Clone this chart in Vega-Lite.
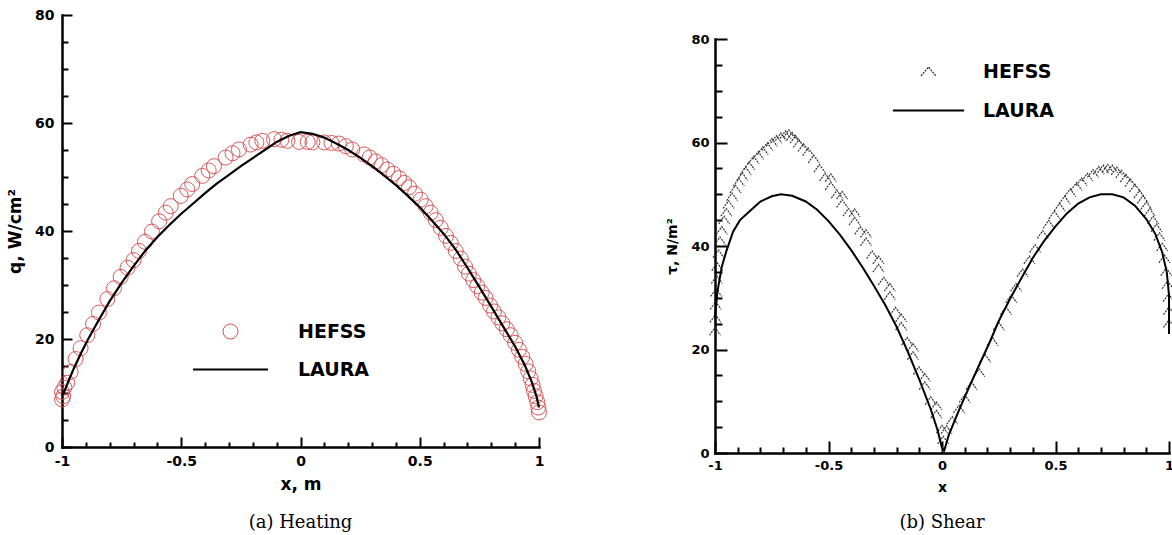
{
  "$schema": "https://vega.github.io/schema/vega-lite/v6.json",
  "background": "white",
  "padding": {"left": 6, "top": 8, "right": 0, "bottom": 5},
  "config": {
    "view": {"stroke": null},
    "font": "DejaVu Sans",
    "axis": {"grid": false, "domainColor": "black", "tickColor": "black", "labelColor": "black", "titleColor": "black", "labelFont": "DejaVu Sans", "titleFont": "DejaVu Sans", "labelFontWeight": "bold", "titleFontWeight": "bold", "labelFlush": false, "labelOverlap": false, "domainCap": "square"}
  },
  "resolve": {"scale": {"color": "independent"}, "legend": {"color": "independent"}},
  "spacing": 116,
  "hconcat": [
    {
      "width": 477,
      "height": 432,
      "title": {"text": "(a) Heating", "orient": "bottom", "font": "DejaVu Serif", "fontSize": 18, "fontWeight": "normal", "color": "black", "offset": 22, "anchor": "middle"},
      "data": {"values": [
        {"series": "LAURA", "x": -1.0, "y": 9.5},
        {"series": "LAURA", "x": -0.99, "y": 10.3},
        {"series": "LAURA", "x": -0.97, "y": 12.5},
        {"series": "LAURA", "x": -0.95, "y": 14.6},
        {"series": "LAURA", "x": -0.92, "y": 17.4},
        {"series": "LAURA", "x": -0.89, "y": 20.0},
        {"series": "LAURA", "x": -0.85, "y": 23.2},
        {"series": "LAURA", "x": -0.80, "y": 27.0},
        {"series": "LAURA", "x": -0.75, "y": 30.4},
        {"series": "LAURA", "x": -0.70, "y": 33.5},
        {"series": "LAURA", "x": -0.65, "y": 36.4},
        {"series": "LAURA", "x": -0.60, "y": 38.9},
        {"series": "LAURA", "x": -0.55, "y": 41.1},
        {"series": "LAURA", "x": -0.50, "y": 43.2},
        {"series": "LAURA", "x": -0.45, "y": 45.1},
        {"series": "LAURA", "x": -0.40, "y": 47.0},
        {"series": "LAURA", "x": -0.35, "y": 48.8},
        {"series": "LAURA", "x": -0.30, "y": 50.4},
        {"series": "LAURA", "x": -0.25, "y": 52.0},
        {"series": "LAURA", "x": -0.20, "y": 53.5},
        {"series": "LAURA", "x": -0.15, "y": 55.0},
        {"series": "LAURA", "x": -0.10, "y": 56.5},
        {"series": "LAURA", "x": -0.05, "y": 57.6},
        {"series": "LAURA", "x": 0.0, "y": 58.3},
        {"series": "LAURA", "x": 0.05, "y": 58.0},
        {"series": "LAURA", "x": 0.10, "y": 57.3},
        {"series": "LAURA", "x": 0.15, "y": 56.2},
        {"series": "LAURA", "x": 0.20, "y": 55.0},
        {"series": "LAURA", "x": 0.25, "y": 53.6},
        {"series": "LAURA", "x": 0.30, "y": 52.0},
        {"series": "LAURA", "x": 0.35, "y": 50.3},
        {"series": "LAURA", "x": 0.40, "y": 48.5},
        {"series": "LAURA", "x": 0.45, "y": 46.5},
        {"series": "LAURA", "x": 0.50, "y": 44.4},
        {"series": "LAURA", "x": 0.55, "y": 42.0},
        {"series": "LAURA", "x": 0.60, "y": 39.5},
        {"series": "LAURA", "x": 0.65, "y": 36.6},
        {"series": "LAURA", "x": 0.70, "y": 33.2},
        {"series": "LAURA", "x": 0.75, "y": 29.6},
        {"series": "LAURA", "x": 0.80, "y": 26.0},
        {"series": "LAURA", "x": 0.85, "y": 22.3},
        {"series": "LAURA", "x": 0.90, "y": 18.6},
        {"series": "LAURA", "x": 0.94, "y": 15.2},
        {"series": "LAURA", "x": 0.97, "y": 12.0},
        {"series": "LAURA", "x": 0.99, "y": 9.3},
        {"series": "LAURA", "x": 1.0, "y": 7.3},
        {"series": "HEFSS", "x": -1.0, "y": 8.8},
        {"series": "HEFSS", "x": -1.0, "y": 10.2},
        {"series": "HEFSS", "x": -0.995, "y": 9.4},
        {"series": "HEFSS", "x": -0.99, "y": 11.0},
        {"series": "HEFSS", "x": -0.978, "y": 11.9},
        {"series": "HEFSS", "x": -0.964, "y": 13.9},
        {"series": "HEFSS", "x": -0.943, "y": 16.3},
        {"series": "HEFSS", "x": -0.922, "y": 18.3},
        {"series": "HEFSS", "x": -0.894, "y": 20.7},
        {"series": "HEFSS", "x": -0.87, "y": 22.8},
        {"series": "HEFSS", "x": -0.845, "y": 24.9},
        {"series": "HEFSS", "x": -0.81, "y": 27.4},
        {"series": "HEFSS", "x": -0.782, "y": 29.4},
        {"series": "HEFSS", "x": -0.754, "y": 31.5},
        {"series": "HEFSS", "x": -0.725, "y": 33.2},
        {"series": "HEFSS", "x": -0.70, "y": 34.6},
        {"series": "HEFSS", "x": -0.677, "y": 36.3},
        {"series": "HEFSS", "x": -0.652, "y": 38.0},
        {"series": "HEFSS", "x": -0.623, "y": 39.9},
        {"series": "HEFSS", "x": -0.593, "y": 41.8},
        {"series": "HEFSS", "x": -0.565, "y": 43.4},
        {"series": "HEFSS", "x": -0.544, "y": 44.6},
        {"series": "HEFSS", "x": -0.502, "y": 46.5},
        {"series": "HEFSS", "x": -0.475, "y": 47.7},
        {"series": "HEFSS", "x": -0.454, "y": 48.7},
        {"series": "HEFSS", "x": -0.412, "y": 50.2},
        {"series": "HEFSS", "x": -0.385, "y": 51.2},
        {"series": "HEFSS", "x": -0.363, "y": 52.0},
        {"series": "HEFSS", "x": -0.314, "y": 53.6},
        {"series": "HEFSS", "x": -0.285, "y": 54.4},
        {"series": "HEFSS", "x": -0.258, "y": 55.1},
        {"series": "HEFSS", "x": -0.209, "y": 56.0},
        {"series": "HEFSS", "x": -0.185, "y": 56.4},
        {"series": "HEFSS", "x": -0.160, "y": 56.7},
        {"series": "HEFSS", "x": -0.111, "y": 57.0},
        {"series": "HEFSS", "x": -0.08, "y": 56.9},
        {"series": "HEFSS", "x": -0.055, "y": 56.7},
        {"series": "HEFSS", "x": -0.006, "y": 56.5},
        {"series": "HEFSS", "x": 0.03, "y": 56.5},
        {"series": "HEFSS", "x": 0.05, "y": 56.4},
        {"series": "HEFSS", "x": 0.099, "y": 56.4},
        {"series": "HEFSS", "x": 0.13, "y": 56.3},
        {"series": "HEFSS", "x": 0.161, "y": 56.2},
        {"series": "HEFSS", "x": 0.19, "y": 55.7},
        {"series": "HEFSS", "x": 0.217, "y": 55.1},
        {"series": "HEFSS", "x": 0.266, "y": 54.2},
        {"series": "HEFSS", "x": 0.29, "y": 53.6},
        {"series": "HEFSS", "x": 0.315, "y": 52.9},
        {"series": "HEFSS", "x": 0.34, "y": 52.2},
        {"series": "HEFSS", "x": 0.364, "y": 51.4},
        {"series": "HEFSS", "x": 0.39, "y": 50.6},
        {"series": "HEFSS", "x": 0.413, "y": 49.8},
        {"series": "HEFSS", "x": 0.435, "y": 48.9},
        {"series": "HEFSS", "x": 0.455, "y": 48.1},
        {"series": "HEFSS", "x": 0.48, "y": 46.9},
        {"series": "HEFSS", "x": 0.504, "y": 45.8},
        {"series": "HEFSS", "x": 0.525, "y": 44.6},
        {"series": "HEFSS", "x": 0.546, "y": 43.4},
        {"series": "HEFSS", "x": 0.567, "y": 42.0},
        {"series": "HEFSS", "x": 0.588, "y": 40.6},
        {"series": "HEFSS", "x": 0.61, "y": 39.1},
        {"series": "HEFSS", "x": 0.630, "y": 37.8},
        {"series": "HEFSS", "x": 0.651, "y": 36.3},
        {"series": "HEFSS", "x": 0.672, "y": 34.9},
        {"series": "HEFSS", "x": 0.69, "y": 33.4},
        {"series": "HEFSS", "x": 0.706, "y": 32.1},
        {"series": "HEFSS", "x": 0.724, "y": 30.9},
        {"series": "HEFSS", "x": 0.741, "y": 29.8},
        {"series": "HEFSS", "x": 0.76, "y": 28.6},
        {"series": "HEFSS", "x": 0.776, "y": 27.6},
        {"series": "HEFSS", "x": 0.795, "y": 26.2},
        {"series": "HEFSS", "x": 0.811, "y": 25.1},
        {"series": "HEFSS", "x": 0.83, "y": 24.0},
        {"series": "HEFSS", "x": 0.846, "y": 22.9},
        {"series": "HEFSS", "x": 0.865, "y": 21.8},
        {"series": "HEFSS", "x": 0.881, "y": 20.7},
        {"series": "HEFSS", "x": 0.90, "y": 19.3},
        {"series": "HEFSS", "x": 0.916, "y": 18.0},
        {"series": "HEFSS", "x": 0.93, "y": 16.7},
        {"series": "HEFSS", "x": 0.944, "y": 15.4},
        {"series": "HEFSS", "x": 0.955, "y": 14.0},
        {"series": "HEFSS", "x": 0.965, "y": 12.7},
        {"series": "HEFSS", "x": 0.973, "y": 11.5},
        {"series": "HEFSS", "x": 0.979, "y": 10.4},
        {"series": "HEFSS", "x": 0.986, "y": 9.4},
        {"series": "HEFSS", "x": 0.993, "y": 8.3},
        {"series": "HEFSS", "x": 0.997, "y": 7.3},
        {"series": "HEFSS", "x": 1.0, "y": 6.4}
      ]},
      "encoding": {
        "x": {"field": "x", "type": "quantitative", "scale": {"domain": [-1, 1], "nice": false, "zero": false},
          "axis": {"values": [-1, -0.9, -0.8, -0.7, -0.6, -0.5, -0.4, -0.3, -0.2, -0.1, 0, 0.1, 0.2, 0.3, 0.4, 0.5, 0.6, 0.7, 0.8, 0.9, 1],
            "labelExpr": "abs(datum.value*2 - round(datum.value*2)) < 0.001 ? '' + datum.value : ''",
            "tickSize": {"condition": {"test": "abs(datum.value*2 - round(datum.value*2)) < 0.001", "value": -10}, "value": -5},
            "tickWidth": 2, "domainWidth": 2.5, "labelPadding": 17, "labelFontSize": 14,
            "title": "x, m", "titleFontSize": 17, "titlePadding": 3}},
        "y": {"field": "y", "type": "quantitative", "scale": {"domain": [0, 80], "nice": false},
          "axis": {"values": [0, 5, 10, 15, 20, 25, 30, 35, 40, 45, 50, 55, 60, 65, 70, 75, 80],
            "labelExpr": "datum.value % 20 === 0 ? '' + datum.value : ''",
            "tickSize": {"condition": {"test": "datum.value % 20 === 0", "value": -10}, "value": -6},
            "tickWidth": 2, "domainWidth": 2.5, "labelPadding": 18, "labelFontSize": 14,
            "title": "q, W/cm²", "titleFontSize": 17, "titlePadding": 10}},
        "color": {"field": "series", "type": "nominal", "scale": {"domain": ["HEFSS", "LAURA"], "range": ["#d94848", "black"]},
          "legend": {"orient": "none", "legendX": 159, "legendY": 307, "title": null, "padding": 0,
            "labelFont": "DejaVu Sans", "labelFontSize": 19, "labelFontWeight": "bold", "labelColor": "black",
            "labelOffset": 58, "rowPadding": 18, "symbolSize": 225,
            "encode": {"symbols": {"update": {
              "shape": {"signal": "datum.value === 'HEFSS' ? 'circle' : 'M-5,0L5,0'"},
              "stroke": {"signal": "datum.value === 'HEFSS' ? '#d94848' : 'black'"},
              "strokeWidth": {"signal": "datum.value === 'HEFSS' ? 1 : 2.2"},
              "fill": {"value": "transparent"},
              "size": {"value": 225},
              "opacity": {"value": 1}}}}}}
      },
      "layer": [
        {"transform": [{"filter": "datum.series === 'HEFSS'"}],
         "mark": {"type": "point", "shape": "circle", "size": 225, "strokeWidth": 1, "filled": false, "opacity": 0.9}},
        {"transform": [{"filter": "datum.series === 'LAURA'"}],
         "mark": {"type": "line", "strokeWidth": 2.2}}
      ]
    },
    {
      "spacing": 17,
      "resolve": {"scale": {"color": "independent"}, "legend": {"color": "independent"}},
      "vconcat": [
        {"width": 454, "height": 1, "data": {"values": []}, "mark": {"type": "point", "opacity": 0}, "encoding": {}},
        {
          "width": 454,
          "height": 414,
          "title": {"text": "(b) Shear", "orient": "bottom", "font": "DejaVu Serif", "fontSize": 18, "fontWeight": "normal", "color": "black", "offset": 20, "anchor": "middle"},
          "data": {"values": [
            {"series": "LAURA", "x": -1.0, "y": 26.0},
            {"series": "LAURA", "x": -0.99, "y": 31.0},
            {"series": "LAURA", "x": -0.97, "y": 36.0},
            {"series": "LAURA", "x": -0.95, "y": 39.0},
            {"series": "LAURA", "x": -0.92, "y": 42.8},
            {"series": "LAURA", "x": -0.89, "y": 45.0},
            {"series": "LAURA", "x": -0.85, "y": 46.6},
            {"series": "LAURA", "x": -0.80, "y": 48.6},
            {"series": "LAURA", "x": -0.75, "y": 49.6},
            {"series": "LAURA", "x": -0.71, "y": 50.0},
            {"series": "LAURA", "x": -0.66, "y": 49.7},
            {"series": "LAURA", "x": -0.60, "y": 48.6},
            {"series": "LAURA", "x": -0.55, "y": 47.0},
            {"series": "LAURA", "x": -0.50, "y": 44.8},
            {"series": "LAURA", "x": -0.45, "y": 42.2},
            {"series": "LAURA", "x": -0.40, "y": 39.2},
            {"series": "LAURA", "x": -0.35, "y": 35.9},
            {"series": "LAURA", "x": -0.30, "y": 32.3},
            {"series": "LAURA", "x": -0.25, "y": 28.6},
            {"series": "LAURA", "x": -0.20, "y": 24.4},
            {"series": "LAURA", "x": -0.15, "y": 19.5},
            {"series": "LAURA", "x": -0.10, "y": 14.2},
            {"series": "LAURA", "x": -0.05, "y": 8.5},
            {"series": "LAURA", "x": -0.02, "y": 4.5},
            {"series": "LAURA", "x": 0.0, "y": 1.0},
            {"series": "LAURA", "x": 0.01, "y": 0.5},
            {"series": "LAURA", "x": 0.03, "y": 3.5},
            {"series": "LAURA", "x": 0.075, "y": 8.3},
            {"series": "LAURA", "x": 0.12, "y": 12.8},
            {"series": "LAURA", "x": 0.164, "y": 17.0},
            {"series": "LAURA", "x": 0.21, "y": 21.4},
            {"series": "LAURA", "x": 0.25, "y": 25.5},
            {"series": "LAURA", "x": 0.30, "y": 29.8},
            {"series": "LAURA", "x": 0.355, "y": 34.2},
            {"series": "LAURA", "x": 0.40, "y": 37.7},
            {"series": "LAURA", "x": 0.45, "y": 41.0},
            {"series": "LAURA", "x": 0.50, "y": 43.8},
            {"series": "LAURA", "x": 0.55, "y": 46.3},
            {"series": "LAURA", "x": 0.60, "y": 48.2},
            {"series": "LAURA", "x": 0.65, "y": 49.4},
            {"series": "LAURA", "x": 0.70, "y": 50.0},
            {"series": "LAURA", "x": 0.75, "y": 50.0},
            {"series": "LAURA", "x": 0.80, "y": 49.4},
            {"series": "LAURA", "x": 0.85, "y": 47.8},
            {"series": "LAURA", "x": 0.90, "y": 45.2},
            {"series": "LAURA", "x": 0.94, "y": 42.3},
            {"series": "LAURA", "x": 0.97, "y": 38.8},
            {"series": "LAURA", "x": 0.99, "y": 35.0},
            {"series": "LAURA", "x": 1.0, "y": 30.5},
            {"series": "LAURA", "x": 1.0, "y": 26.0},
            {"series": "LAURA", "x": 1.0, "y": 23.0},
            {"series": "HEFSS", "x": -1.0, "y": 23.5},
            {"series": "HEFSS", "x": -0.998, "y": 26.0},
            {"series": "HEFSS", "x": -0.997, "y": 28.5},
            {"series": "HEFSS", "x": -0.995, "y": 31.0},
            {"series": "HEFSS", "x": -0.992, "y": 33.5},
            {"series": "HEFSS", "x": -0.99, "y": 36.0},
            {"series": "HEFSS", "x": -0.985, "y": 38.5},
            {"series": "HEFSS", "x": -0.978, "y": 41.0},
            {"series": "HEFSS", "x": -0.97, "y": 43.0},
            {"series": "HEFSS", "x": -0.96, "y": 45.0},
            {"series": "HEFSS", "x": -0.95, "y": 46.5},
            {"series": "HEFSS", "x": -0.94, "y": 48.0},
            {"series": "HEFSS", "x": -0.925, "y": 49.5},
            {"series": "HEFSS", "x": -0.91, "y": 51.0},
            {"series": "HEFSS", "x": -0.895, "y": 52.3},
            {"series": "HEFSS", "x": -0.88, "y": 53.4},
            {"series": "HEFSS", "x": -0.865, "y": 54.5},
            {"series": "HEFSS", "x": -0.85, "y": 55.5},
            {"series": "HEFSS", "x": -0.83, "y": 56.6},
            {"series": "HEFSS", "x": -0.81, "y": 57.5},
            {"series": "HEFSS", "x": -0.79, "y": 58.4},
            {"series": "HEFSS", "x": -0.77, "y": 59.2},
            {"series": "HEFSS", "x": -0.75, "y": 60.0},
            {"series": "HEFSS", "x": -0.73, "y": 60.6},
            {"series": "HEFSS", "x": -0.71, "y": 61.1},
            {"series": "HEFSS", "x": -0.69, "y": 61.5},
            {"series": "HEFSS", "x": -0.675, "y": 61.7},
            {"series": "HEFSS", "x": -0.66, "y": 61.2},
            {"series": "HEFSS", "x": -0.645, "y": 60.6},
            {"series": "HEFSS", "x": -0.63, "y": 59.8},
            {"series": "HEFSS", "x": -0.61, "y": 59.0},
            {"series": "HEFSS", "x": -0.59, "y": 58.2},
            {"series": "HEFSS", "x": -0.565, "y": 56.8},
            {"series": "HEFSS", "x": -0.54, "y": 55.0},
            {"series": "HEFSS", "x": -0.515, "y": 53.3},
            {"series": "HEFSS", "x": -0.49, "y": 51.6},
            {"series": "HEFSS", "x": -0.49, "y": 53.2},
            {"series": "HEFSS", "x": -0.463, "y": 50.0},
            {"series": "HEFSS", "x": -0.44, "y": 48.2},
            {"series": "HEFSS", "x": -0.44, "y": 49.8},
            {"series": "HEFSS", "x": -0.412, "y": 46.5},
            {"series": "HEFSS", "x": -0.385, "y": 44.8},
            {"series": "HEFSS", "x": -0.385, "y": 46.4},
            {"series": "HEFSS", "x": -0.36, "y": 43.0},
            {"series": "HEFSS", "x": -0.335, "y": 40.8},
            {"series": "HEFSS", "x": -0.335, "y": 42.4},
            {"series": "HEFSS", "x": -0.308, "y": 38.3},
            {"series": "HEFSS", "x": -0.28, "y": 35.7},
            {"series": "HEFSS", "x": -0.28, "y": 37.3},
            {"series": "HEFSS", "x": -0.257, "y": 33.2},
            {"series": "HEFSS", "x": -0.23, "y": 30.4},
            {"series": "HEFSS", "x": -0.23, "y": 32.0},
            {"series": "HEFSS", "x": -0.205, "y": 27.4},
            {"series": "HEFSS", "x": -0.18, "y": 24.5},
            {"series": "HEFSS", "x": -0.18, "y": 26.1},
            {"series": "HEFSS", "x": -0.154, "y": 21.6},
            {"series": "HEFSS", "x": -0.128, "y": 18.8},
            {"series": "HEFSS", "x": -0.128, "y": 20.4},
            {"series": "HEFSS", "x": -0.102, "y": 15.9},
            {"series": "HEFSS", "x": -0.076, "y": 13.0},
            {"series": "HEFSS", "x": -0.076, "y": 14.6},
            {"series": "HEFSS", "x": -0.05, "y": 10.1},
            {"series": "HEFSS", "x": -0.025, "y": 7.5},
            {"series": "HEFSS", "x": -0.025, "y": 9.1},
            {"series": "HEFSS", "x": 0.0, "y": 4.6},
            {"series": "HEFSS", "x": 0.005, "y": 2.5},
            {"series": "HEFSS", "x": 0.02, "y": 4.5},
            {"series": "HEFSS", "x": 0.045, "y": 6.3},
            {"series": "HEFSS", "x": 0.075, "y": 8.5},
            {"series": "HEFSS", "x": 0.1, "y": 10.5},
            {"series": "HEFSS", "x": 0.13, "y": 13.0},
            {"series": "HEFSS", "x": 0.164, "y": 15.5},
            {"series": "HEFSS", "x": 0.19, "y": 18.3},
            {"series": "HEFSS", "x": 0.223, "y": 21.5},
            {"series": "HEFSS", "x": 0.25, "y": 24.5},
            {"series": "HEFSS", "x": 0.282, "y": 27.5},
            {"series": "HEFSS", "x": 0.305, "y": 29.8},
            {"series": "HEFSS", "x": 0.326, "y": 32.0},
            {"series": "HEFSS", "x": 0.355, "y": 34.8},
            {"series": "HEFSS", "x": 0.385, "y": 37.3},
            {"series": "HEFSS", "x": 0.41, "y": 39.5},
            {"series": "HEFSS", "x": 0.444, "y": 42.2},
            {"series": "HEFSS", "x": 0.47, "y": 44.2},
            {"series": "HEFSS", "x": 0.495, "y": 46.0},
            {"series": "HEFSS", "x": 0.518, "y": 47.5},
            {"series": "HEFSS", "x": 0.54, "y": 48.9},
            {"series": "HEFSS", "x": 0.565, "y": 50.3},
            {"series": "HEFSS", "x": 0.592, "y": 51.5},
            {"series": "HEFSS", "x": 0.615, "y": 52.4},
            {"series": "HEFSS", "x": 0.64, "y": 53.3},
            {"series": "HEFSS", "x": 0.665, "y": 54.0},
            {"series": "HEFSS", "x": 0.69, "y": 54.6},
            {"series": "HEFSS", "x": 0.71, "y": 54.9},
            {"series": "HEFSS", "x": 0.73, "y": 55.0},
            {"series": "HEFSS", "x": 0.75, "y": 54.9},
            {"series": "HEFSS", "x": 0.77, "y": 54.5},
            {"series": "HEFSS", "x": 0.79, "y": 53.9},
            {"series": "HEFSS", "x": 0.81, "y": 53.1},
            {"series": "HEFSS", "x": 0.83, "y": 52.2},
            {"series": "HEFSS", "x": 0.85, "y": 51.2},
            {"series": "HEFSS", "x": 0.87, "y": 50.0},
            {"series": "HEFSS", "x": 0.885, "y": 49.0},
            {"series": "HEFSS", "x": 0.90, "y": 47.8},
            {"series": "HEFSS", "x": 0.915, "y": 46.5},
            {"series": "HEFSS", "x": 0.93, "y": 45.0},
            {"series": "HEFSS", "x": 0.945, "y": 43.5},
            {"series": "HEFSS", "x": 0.958, "y": 41.8},
            {"series": "HEFSS", "x": 0.97, "y": 39.8},
            {"series": "HEFSS", "x": 0.98, "y": 37.5},
            {"series": "HEFSS", "x": 0.988, "y": 35.0},
            {"series": "HEFSS", "x": 0.994, "y": 32.5},
            {"series": "HEFSS", "x": 0.998, "y": 30.0},
            {"series": "HEFSS", "x": 1.0, "y": 27.5},
            {"series": "HEFSS", "x": 1.0, "y": 25.0}
          ]},
          "encoding": {
            "x": {"field": "x", "type": "quantitative", "scale": {"domain": [-1, 1], "nice": false, "zero": false},
              "axis": {"values": [-1, -0.9, -0.8, -0.7, -0.6, -0.5, -0.4, -0.3, -0.2, -0.1, 0, 0.1, 0.2, 0.3, 0.4, 0.5, 0.6, 0.7, 0.8, 0.9, 1],
                "labelExpr": "abs(datum.value*2 - round(datum.value*2)) < 0.001 ? '' + datum.value : ''",
                "tickSize": {"condition": {"test": "abs(datum.value*2 - round(datum.value*2)) < 0.001", "value": -12}, "value": -6},
                "tickWidth": 2, "domainWidth": 2.5, "labelPadding": 18, "labelFontSize": 13,
                "title": "x", "titleFontSize": 14, "titlePadding": 2}},
            "y": {"field": "y", "type": "quantitative", "scale": {"domain": [0, 80], "nice": false},
              "axis": {"values": [0, 5, 10, 15, 20, 25, 30, 35, 40, 45, 50, 55, 60, 65, 70, 75, 80],
                "labelExpr": "datum.value % 20 === 0 ? '' + datum.value : ''",
                "tickSize": {"condition": {"test": "datum.value % 20 === 0", "value": -12}, "value": -7},
                "tickWidth": 2, "domainWidth": 2.5, "labelPadding": 18, "labelFontSize": 13,
                "title": "τ, N/m²", "titleFontSize": 14, "titlePadding": 11}},
            "color": {"field": "series", "type": "nominal", "scale": {"domain": ["HEFSS", "LAURA"], "range": ["#222222", "black"]},
              "legend": {"orient": "none", "legendX": 204, "legendY": 23, "title": null, "padding": 0,
                "labelFont": "DejaVu Sans", "labelFontSize": 19, "labelFontWeight": "bold", "labelColor": "black",
                "labelOffset": 45, "rowPadding": 19, "symbolSize": 225,
                "encode": {"symbols": {"update": {
                  "shape": {"signal": "datum.value === 'HEFSS' ? 'M-1,0.6L0,-0.6L1,0.6' : 'M-4.75,0L4.75,0'"},
                  "stroke": {"signal": "datum.value === 'HEFSS' ? '#333333' : 'black'"},
                  "strokeWidth": {"signal": "datum.value === 'HEFSS' ? 1.2 : 2"},
                  "strokeDash": {"signal": "datum.value === 'HEFSS' ? [2, 1] : []"},
                  "fill": {"value": "transparent"},
                  "size": {"value": 225},
                  "opacity": {"value": 1}}}}}}
          },
          "layer": [
            {"transform": [{"filter": "datum.series === 'HEFSS'"}],
             "mark": {"type": "point", "shape": "M-1,0.7L0,-0.7L1,0.7", "size": 121, "strokeWidth": 1.2, "strokeDash": [2, 1], "filled": false, "opacity": 0.9}},
            {"transform": [{"filter": "datum.series === 'LAURA'"}],
             "mark": {"type": "line", "strokeWidth": 2}}
          ]
        }
      ]
    }
  ]
}
